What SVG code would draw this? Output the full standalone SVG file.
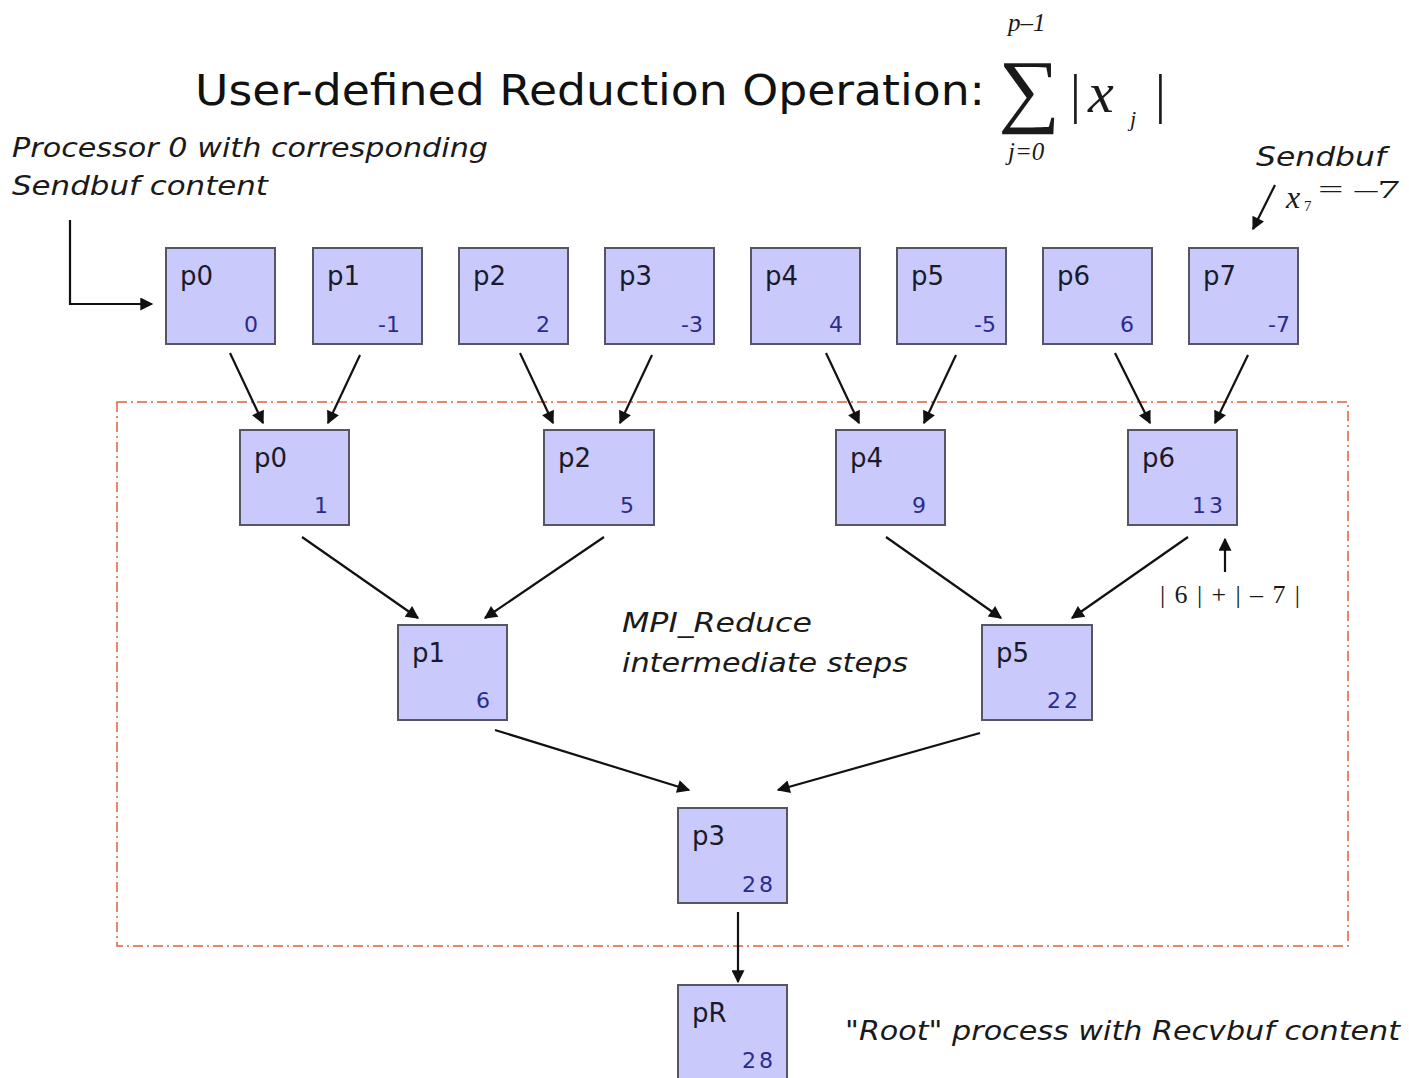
<svg xmlns="http://www.w3.org/2000/svg" width="1409" height="1078" viewBox="0 0 1409 1078">
<style>
.box{fill:#c9c9fb;stroke:#555566;stroke-width:2}
.lbl{font-family:"DejaVu Sans",sans-serif;font-size:26px;fill:#1a1a2a}
.val{font-family:"DejaVu Sans",sans-serif;font-size:22px;fill:#2b2b8c;text-anchor:end}
.note{font-family:"DejaVu Sans",sans-serif;font-style:italic;font-size:26px;fill:#1a1a1a}
.conn line,.conn path{stroke:#111;stroke-width:2.2;fill:none;marker-end:url(#ah)}
.math{font-family:"Liberation Serif",serif;fill:#1a1a1a}
</style>
<defs>
<marker id="ah" viewBox="0 0 10 10" refX="9" refY="5" markerWidth="15" markerHeight="13" orient="auto" markerUnits="userSpaceOnUse">
<path d="M0,0 L10,5 L0,10 z" fill="#111"/>
</marker>
</defs>
<rect width="1409" height="1078" fill="#fff"/>

<!-- title -->
<g id="title">
<text x="195" y="105" font-family="'DejaVu Sans',sans-serif" font-size="42" fill="#111" textLength="790" lengthAdjust="spacingAndGlyphs">User-defined Reduction Operation:</text>
<text class="math" x="998" y="117" font-size="82" textLength="62" lengthAdjust="spacingAndGlyphs">∑</text>
<text class="math" x="1008" y="31" font-size="25" font-style="italic">p–1</text>
<text class="math" x="1008" y="160" font-size="25" font-style="italic">j=0</text>
<text class="math" x="1070" y="112" font-size="54">|</text>
<text class="math" x="1088" y="112" font-size="58" font-style="italic">x</text>
<text class="math" x="1130" y="126" font-size="22" font-style="italic">j</text>
<text class="math" x="1155" y="112" font-size="54">|</text>
</g>

<!-- dashed region -->
<rect id="region" x="117" y="402" width="1231" height="544" fill="none" stroke="#e0603a" stroke-width="1.5" stroke-dasharray="10,4,2,4"/>

<!-- annotations -->
<g id="ann-p0">
<text class="note" x="12" y="157" textLength="476" lengthAdjust="spacingAndGlyphs">Processor 0 with corresponding</text>
<text class="note" x="12" y="195" textLength="256" lengthAdjust="spacingAndGlyphs">Sendbuf content</text>
</g>
<g id="ann-p7">
<text class="note" x="1256" y="166" textLength="130" lengthAdjust="spacingAndGlyphs">Sendbuf</text>
<text class="math" x="1286" y="208" font-size="32" font-style="italic" fill="#333">x</text>
<text class="math" x="1304" y="211" font-size="15" fill="#333">7</text>
<text class="math" x="1318" y="198" font-size="26" fill="#333" textLength="82" lengthAdjust="spacingAndGlyphs">= –7</text>
</g>
<g id="ann-mpi">
<text class="note" x="622" y="632" textLength="190" lengthAdjust="spacingAndGlyphs">MPI_Reduce</text>
<text class="note" x="622" y="672" textLength="286" lengthAdjust="spacingAndGlyphs">intermediate steps</text>
</g>
<g id="ann-sum">
<text class="math" x="1160" y="603" font-size="26" fill="#444" textLength="140" lengthAdjust="spacing">|6|+|–7|</text>
</g>
<g id="ann-root">
<text class="note" x="845" y="1040" textLength="555" lengthAdjust="spacingAndGlyphs">"Root" process with Recvbuf  content</text>
</g>

<!-- connectors -->
<g class="conn" id="connectors">
<path d="M70,220 L70,304 L152,304"/>
<line x1="1275" y1="185" x2="1253" y2="229"/>
<line x1="1225" y1="572" x2="1225" y2="539"/>
<line x1="230" y1="353" x2="263" y2="423"/>
<line x1="360" y1="355" x2="328" y2="423"/>
<line x1="520" y1="353" x2="553" y2="423"/>
<line x1="652" y1="355" x2="620" y2="423"/>
<line x1="826" y1="353" x2="859" y2="423"/>
<line x1="956" y1="355" x2="924" y2="423"/>
<line x1="1115" y1="353" x2="1150" y2="423"/>
<line x1="1248" y1="355" x2="1215" y2="423"/>
<line x1="302" y1="537" x2="418" y2="618"/>
<line x1="604" y1="537" x2="485" y2="618"/>
<line x1="886" y1="537" x2="1001" y2="618"/>
<line x1="1188" y1="537" x2="1072" y2="618"/>
<line x1="495" y1="730" x2="689" y2="790"/>
<line x1="980" y1="733" x2="778" y2="790"/>
<line x1="738" y1="912" x2="738" y2="982"/>
</g>

<!-- top row -->
<g id="n-p0-0"><rect class="box" x="166" y="248" width="109" height="96"/><text class="lbl" x="180" y="285">p0</text><text class="val" x="258" y="332">0</text></g>
<g id="n-p1-0"><rect class="box" x="313" y="248" width="109" height="96"/><text class="lbl" x="327" y="285">p1</text><text class="val" x="400" y="332">-1</text></g>
<g id="n-p2-0"><rect class="box" x="459" y="248" width="109" height="96"/><text class="lbl" x="473" y="285">p2</text><text class="val" x="550" y="332">2</text></g>
<g id="n-p3-0"><rect class="box" x="605" y="248" width="109" height="96"/><text class="lbl" x="619" y="285">p3</text><text class="val" x="703" y="332">-3</text></g>
<g id="n-p4-0"><rect class="box" x="751" y="248" width="109" height="96"/><text class="lbl" x="765" y="285">p4</text><text class="val" x="843" y="332">4</text></g>
<g id="n-p5-0"><rect class="box" x="897" y="248" width="109" height="96"/><text class="lbl" x="911" y="285">p5</text><text class="val" x="996" y="332">-5</text></g>
<g id="n-p6-0"><rect class="box" x="1043" y="248" width="109" height="96"/><text class="lbl" x="1057" y="285">p6</text><text class="val" x="1134" y="332">6</text></g>
<g id="n-p7-0"><rect class="box" x="1189" y="248" width="109" height="96"/><text class="lbl" x="1203" y="285">p7</text><text class="val" x="1290" y="332">-7</text></g>

<!-- level 2 -->
<g id="n-p0-1"><rect class="box" x="240" y="430" width="109" height="95"/><text class="lbl" x="254" y="467">p0</text><text class="val" x="328" y="513">1</text></g>
<g id="n-p2-1"><rect class="box" x="544" y="430" width="110" height="95"/><text class="lbl" x="558" y="467">p2</text><text class="val" x="634" y="513">5</text></g>
<g id="n-p4-1"><rect class="box" x="836" y="430" width="109" height="95"/><text class="lbl" x="850" y="467">p4</text><text class="val" x="926" y="513">9</text></g>
<g id="n-p6-1"><rect class="box" x="1128" y="430" width="109" height="95"/><text class="lbl" x="1142" y="467">p6</text><text class="val" x="1226" y="513" letter-spacing="3">13</text></g>

<!-- level 3 -->
<g id="n-p1-2"><rect class="box" x="398" y="625" width="109" height="95"/><text class="lbl" x="412" y="662">p1</text><text class="val" x="490" y="708">6</text></g>
<g id="n-p5-2"><rect class="box" x="982" y="625" width="110" height="95"/><text class="lbl" x="996" y="662">p5</text><text class="val" x="1081" y="708" letter-spacing="3">22</text></g>

<!-- level 4 -->
<g id="n-p3-3"><rect class="box" x="678" y="808" width="109" height="95"/><text class="lbl" x="692" y="845">p3</text><text class="val" x="776" y="892" letter-spacing="3">28</text></g>

<!-- root -->
<g id="n-pR"><rect class="box" x="678" y="985" width="109" height="100"/><text class="lbl" x="692" y="1022">pR</text><text class="val" x="776" y="1068" letter-spacing="3">28</text></g>
</svg>
